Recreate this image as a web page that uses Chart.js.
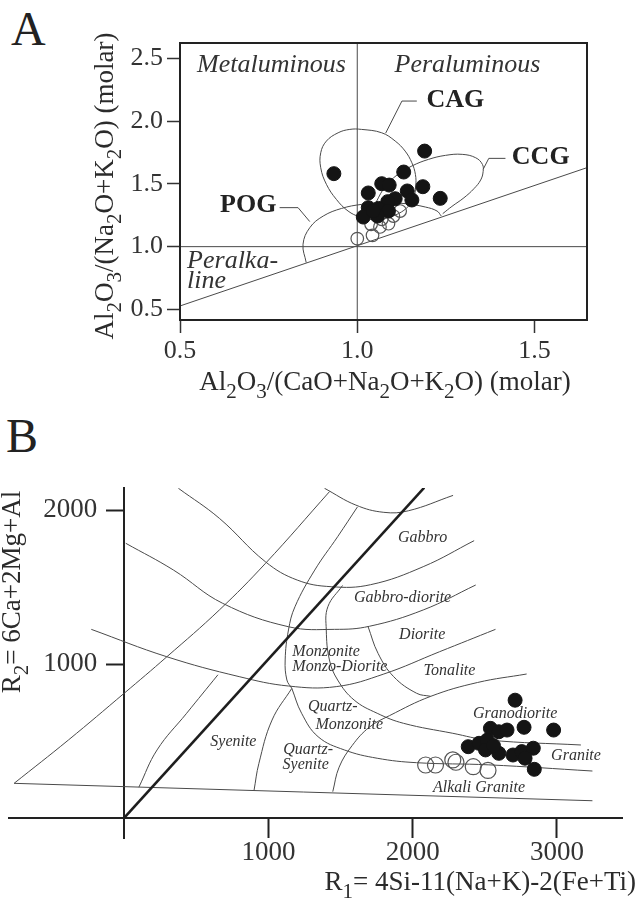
<!DOCTYPE html>
<html>
<head>
<meta charset="utf-8">
<script src="https://cdn.jsdelivr.net/npm/chart.js@4/dist/chart.umd.min.js"></script>
<style>
  body { margin: 0; background: #fff; width: 638px; height: 911px; position: relative; overflow: hidden; }
  .panel-label { position: absolute; font-family: 'Liberation Serif', serif; font-size: 48px; line-height: 1; color: #222; }
  #chartA { position: absolute; left: 0; top: 0; }
  #chartB { position: absolute; left: 0; top: 410px; }
</style>
</head>
<body>
<div class="panel-label" style="left:11px; top:5px">A</div>
<div class="panel-label" style="left:6px; top:412px">B</div>
<canvas id="chartA" width="638" height="410"></canvas>
<canvas id="chartB" width="638" height="501"></canvas>
<script>
// ---------- panel A : A/CNK vs A/NK ----------
var aTicksX = [0.5, 1.0, 1.5];
var aTicksY = [0.5, 1.0, 1.5, 2.0, 2.5];
var aFilledX = [0.934, 1.190, 1.131, 1.069, 1.090, 1.031, 1.185, 1.141, 1.154, 1.107, 1.086, 1.234, 1.031, 1.060, 1.088, 1.017, 1.057, 1.045];
var aFilledY = [1.582, 1.762, 1.595, 1.502, 1.491, 1.428, 1.478, 1.444, 1.372, 1.382, 1.359, 1.385, 1.311, 1.305, 1.284, 1.236, 1.244, 1.284];
var aOpenX = [1.000, 1.043, 1.039, 1.064, 1.088, 1.121, 1.102, 1.069];
var aOpenY = [1.064, 1.090, 1.178, 1.157, 1.183, 1.284, 1.244, 1.218];

// field outlines
var cagField = [[1.041, 1.215], [1.008, 1.236], [0.974, 1.284], [0.941, 1.377], [0.913, 1.497], [0.897, 1.629], [0.897, 1.749], [0.913, 1.842], [0.946, 1.908], [0.979, 1.935], [1.012, 1.935], [1.069, 1.908], [1.107, 1.842], [1.135, 1.762], [1.154, 1.669], [1.164, 1.576], [1.165, 1.483], [1.159, 1.390], [1.145, 1.324], [1.116, 1.263], [1.078, 1.226], [1.041, 1.215]];
var ccgField = [[1.045, 1.297], [1.055, 1.364], [1.078, 1.475], [1.112, 1.571], [1.154, 1.643], [1.201, 1.696], [1.249, 1.728], [1.296, 1.736], [1.334, 1.709], [1.353, 1.656], [1.355, 1.598], [1.348, 1.531], [1.329, 1.462], [1.301, 1.390], [1.267, 1.321], [1.241, 1.263]];
var pogField = [[0.856, 0.873], [0.847, 1.019], [0.866, 1.151], [0.904, 1.244], [0.956, 1.305], [1.012, 1.337], [1.069, 1.350], [1.135, 1.343], [1.192, 1.316], [1.225, 1.284], [1.237, 1.244]];
var cagLeader = [[1.080, 1.905], [1.126, 2.161], [1.168, 2.161]];
var ccgLeader = [[1.355, 1.616], [1.371, 1.704], [1.418, 1.704]];
var pogLeader = [[0.781, 1.311], [0.833, 1.311], [0.866, 1.200]];
var peralkLine = [[0.5, 0.527], [1.648, 1.630]];
var aRefV = [[1.0, 0.415], [1.0, 2.624]];
var aRefH = [[0.5, 1.0], [1.648, 1.0]];

// ---------- panel B : R1-R2 ----------
var bTicksX = [1000, 2000, 3000];
var bTicksY = [1000, 2000];
var bFilledX = [2710, 2539, 2597, 2654, 2772, 2977, 2385, 2460, 2517, 2505, 2597, 2695, 2756, 2836, 2779, 2843, 2560];
var bFilledY = [765, 582, 560, 571, 589, 571, 463, 485, 506, 442, 420, 409, 431, 453, 388, 316, 470];
var bOpenX = [2090, 2158, 2278, 2300, 2420, 2522];
var bOpenY = [344, 344, 377, 362, 333, 309];

var bndThick = [[0, 0], [2080, 2145]];
var bndBase = [[-763, 225], [3246, 112]];
var bndL1 = [[-763, 225], [-387, 506], [0, 810], [296, 1047], [660, 1351], [980, 1654], [1424, 2120]];
var bndL0 = [[102, 200], [228, 442], [433, 680], [650, 930]];
var bndL2 = [[1617, 2020], [1480, 1827], [1321, 1610], [1184, 1372], [1139, 1221], [1116, 1026], [1128, 896], [1162, 842]];
var bndS1 = [[1162, 842], [1025, 636], [934, 355], [900, 178]];
var bndC1 = [[1389, 2141], [1606, 2032], [1800, 1985], [1970, 1995], [2280, 2095]];
var bndC2 = [[376, 2141], [660, 1946], [979, 1664], [1200, 1545], [1435, 1502], [1708, 1515], [2073, 1632], [2426, 1801]];
var bndC3 = [[11, 1784], [342, 1610], [683, 1394], [1139, 1242], [1458, 1225], [1700, 1245], [2073, 1351], [2437, 1513]];
var bndC4 = [[-228, 1225], [296, 1047], [797, 918], [1139, 857], [1470, 853], [1800, 935], [2187, 1080], [2574, 1225]];
var bndC5 = [[1446, 171], [1490, 330], [1580, 470], [1700, 590], [1840, 665], [2125, 790], [2450, 880], [2790, 935]];
var bndC6 = [[1690, 1245], [1760, 1069], [1868, 918], [2027, 810], [2125, 790]];
var bndAlpha = [[1514, 1510], [1412, 1372], [1401, 1221], [1423, 1026], [1480, 896], [1594, 766], [1754, 680], [1936, 615], [2278, 550], [2528, 506], [3166, 474]];
var bndBeta = [[1162, 842], [1230, 680], [1344, 528], [1526, 442], [1754, 388], [2027, 359], [2528, 345], [3246, 305]];

var serif = "'Liberation Serif', 'Times New Roman', serif";

function xy(pairs) {
  return pairs.map(function (p) { return { x: p[0], y: p[1] }; });
}
function zip(xs, ys) {
  return xs.map(function (x, i) { return { x: x, y: ys[i] }; });
}
function curve(pairs, width, smooth, color) {
  return {
    data: xy(pairs), showLine: true, fill: false, pointRadius: 0,
    borderColor: color || '#4a4a4a', borderWidth: width || 1,
    tension: smooth ? 0.4 : 0, order: 2
  };
}
function dots(xs, ys, r, filled) {
  return {
    data: zip(xs, ys), showLine: false, pointRadius: r, pointHoverRadius: r,
    pointBackgroundColor: filled ? '#141414' : 'rgba(0,0,0,0)',
    pointBorderColor: filled ? '#141414' : '#555', pointBorderWidth: filled ? 1 : 1.2,
    order: filled ? 0 : 1
  };
}

// text with _2 style subscripts, y is the baseline
function drawRich(ctx, str, x, y, size, align, rotate) {
  var parts = str.split(/(_\d)/).filter(function (s) { return s.length; });
  var big = size + 'px ' + serif, small = Math.round(size * 0.78) + 'px ' + serif;
  var total = 0;
  parts.forEach(function (p) {
    var sub = p.charAt(0) === '_';
    ctx.font = sub ? small : big;
    total += ctx.measureText(sub ? p.slice(1) : p).width;
  });
  ctx.save();
  ctx.translate(x, y);
  if (rotate) ctx.rotate(rotate);
  ctx.fillStyle = '#2b2b2b';
  ctx.textAlign = 'left';
  ctx.textBaseline = 'alphabetic';
  var cx = align === 'right' ? -total : (align === 'left' ? 0 : -total / 2);
  parts.forEach(function (p) {
    var sub = p.charAt(0) === '_';
    var s = sub ? p.slice(1) : p;
    ctx.font = sub ? small : big;
    ctx.fillText(s, cx, sub ? size * 0.3 : 0);
    cx += ctx.measureText(s).width;
  });
  ctx.restore();
}

var notesPlugin = {
  id: 'notes',
  afterDatasetsDraw: function (chart, args, opts) {
    var ctx = chart.ctx, sx = chart.scales.x, sy = chart.scales.y;
    if (opts.box) {
      var a = chart.chartArea;
      ctx.save();
      ctx.strokeStyle = '#222';
      ctx.lineWidth = 2;
      ctx.strokeRect(a.left, a.top, a.right - a.left, a.bottom - a.top);
      ctx.restore();
    }
    (opts.labels || []).forEach(function (t) {
      ctx.save();
      ctx.font = t.font;
      ctx.fillStyle = t.color || '#333';
      ctx.textAlign = t.align || 'center';
      ctx.textBaseline = 'middle';
      ctx.fillText(t.text, sx.getPixelForValue(t.x), sy.getPixelForValue(t.y));
      ctx.restore();
    });
    // y tick labels for the axis that sits at x = 0
    if (opts.yTickLabels) {
      var yl = opts.yTickLabels;
      ctx.save();
      ctx.font = yl.size + 'px ' + serif;
      ctx.fillStyle = '#333';
      ctx.textAlign = 'right';
      ctx.textBaseline = 'middle';
      sy.ticks.forEach(function (t) {
        ctx.fillText(String(t.value), sx.getPixelForValue(0) - yl.gap, sy.getPixelForValue(t.value));
      });
      ctx.restore();
    }
    (opts.titles || []).forEach(function (t) {
      drawRich(ctx, t.text, t.px, t.py, t.size, t.align, t.rotate);
    });
  }
};

var itA = 'italic 26px ' + serif, bdA = 'bold 26px ' + serif, itB = 'italic 16px ' + serif;

new Chart(document.getElementById('chartA'), {
  type: 'scatter',
  data: {
    datasets: [
      dots(aFilledX, aFilledY, 7, true),
      dots(aOpenX, aOpenY, 6.3, false),
      curve(cagField, 1, true), curve(ccgField, 1, true), curve(pogField, 1, true),
      curve(cagLeader), curve(ccgLeader), curve(pogLeader),
      curve(peralkLine), curve(aRefV), curve(aRefH)
    ]
  },
  options: {
    responsive: false, animation: false, events: [],
    layout: { padding: { left: 0, top: 43, right: 51, bottom: 0 } },
    plugins: {
      legend: { display: false }, tooltip: { enabled: false },
      notes: {
        box: true,
        labels: [
          { text: 'Metaluminous', x: 0.758, y: 2.447, font: itA },
          { text: 'Peraluminous', x: 1.311, y: 2.447, font: itA },
          { text: 'Peralka-', x: 0.52, y: 0.885, font: itA, align: 'left' },
          { text: 'line', x: 0.52, y: 0.725, font: itA, align: 'left' },
          { text: 'CAG', x: 1.195, y: 2.168, font: bdA, align: 'left', color: '#222' },
          { text: 'CCG', x: 1.436, y: 1.714, font: bdA, align: 'left', color: '#222' },
          { text: 'POG', x: 0.613, y: 1.331, font: bdA, align: 'left', color: '#222' }
        ],
        titles: [
          { text: 'Al_2O_3/(CaO+Na_2O+K_2O) (molar)', px: 385, py: 390, size: 27, align: 'center' },
          { text: 'Al_2O_3/(Na_2O+K_2O) (molar)', px: 113, py: 186, size: 27, align: 'center', rotate: -Math.PI / 2 }
        ]
      }
    },
    scales: {
      x: {
        type: 'linear', min: 0.5, max: 1.648,
        afterFit: function (s) { s.height = 90; },
        afterBuildTicks: function (s) { s.ticks = aTicksX.map(function (v) { return { value: v }; }); },
        grid: { drawOnChartArea: false, drawTicks: true, tickLength: 13, tickColor: '#333', tickWidth: 1.5 },
        border: { display: false },
        ticks: { padding: 3, color: '#333', font: { family: serif, size: 26 }, maxRotation: 0,
          callback: function (v) { return Number(v).toFixed(1); } }
      },
      y: {
        type: 'linear', min: 0.415, max: 2.624,
        afterFit: function (s) { s.width = 180; },
        afterBuildTicks: function (s) { s.ticks = aTicksY.map(function (v) { return { value: v }; }); },
        grid: { drawOnChartArea: false, drawTicks: true, tickLength: 13, tickColor: '#333', tickWidth: 1.5 },
        border: { display: false },
        ticks: { padding: 4, color: '#333', font: { family: serif, size: 26 },
          callback: function (v) { return Number(v).toFixed(1); } }
      }
    }
  },
  plugins: [notesPlugin]
});

new Chart(document.getElementById('chartB'), {
  type: 'scatter',
  data: {
    datasets: [
      dots(bFilledX, bFilledY, 7, true),
      dots(bOpenX, bOpenY, 8, false),
      curve(bndThick, 2.6, false, '#1e1e1e'),
      curve(bndBase), curve(bndL1, 1, true), curve(bndL0, 1, true), curve(bndL2, 1, true),
      curve(bndS1, 1, true), curve(bndC1, 1, true), curve(bndC2, 1, true), curve(bndC3, 1, true),
      curve(bndC4, 1, true), curve(bndC5, 1, true), curve(bndC6, 1, true),
      curve(bndAlpha, 1, true), curve(bndBeta, 1, true)
    ]
  },
  options: {
    responsive: false, animation: false, events: [],
    layout: { padding: { left: 0, top: 78, right: 16, bottom: 73 } },
    plugins: {
      legend: { display: false }, tooltip: { enabled: false },
      notes: {
        labels: [
          { text: 'Gabbro', x: 2069, y: 1820, font: itB },
          { text: 'Gabbro-diorite', x: 1930, y: 1433, font: itB },
          { text: 'Diorite', x: 2066, y: 1190, font: itB },
          { text: 'Tonalite', x: 2255, y: 955, font: itB },
          { text: 'Monzonite', x: 1166, y: 1080, font: itB, align: 'left' },
          { text: 'Monzo-Diorite', x: 1166, y: 982, font: itB, align: 'left' },
          { text: 'Quartz-', x: 1446, y: 723, font: itB },
          { text: 'Monzonite', x: 1560, y: 608, font: itB },
          { text: 'Syenite', x: 757, y: 495, font: itB },
          { text: 'Quartz-', x: 1275, y: 446, font: itB },
          { text: 'Syenite', x: 1258, y: 344, font: itB },
          { text: 'Granodiorite', x: 2710, y: 677, font: itB },
          { text: 'Granite', x: 3132, y: 403, font: itB },
          { text: 'Alkali Granite', x: 2460, y: 199, font: itB }
        ],
        yTickLabels: { size: 27, gap: 27 },
        titles: [
          { text: 'R_1= 4Si-11(Na+K)-2(Fe+Ti)', px: 636, py: 480, size: 27, align: 'right' },
          { text: 'R_2= 6Ca+2Mg+Al', px: 20, py: 182, size: 27, align: 'center', rotate: -Math.PI / 2 }
        ]
      }
    },
    scales: {
      x: {
        type: 'linear', min: -797, max: 3451, position: { y: 0 },
        afterBuildTicks: function (s) { s.ticks = bTicksX.map(function (v) { return { value: v }; }); },
        grid: { drawOnChartArea: false, drawTicks: true, tickLength: 19, tickColor: '#222', tickWidth: 2 },
        border: { display: true, color: '#222', width: 2 },
        ticks: { padding: 0, color: '#333', font: { family: serif, size: 27 }, maxRotation: 0,
          callback: function (v) { return String(v); } }
      },
      y: {
        type: 'linear', min: -130, max: 2143, position: { x: 0 },
        afterBuildTicks: function (s) { s.ticks = bTicksY.map(function (v) { return { value: v }; }); },
        grid: { drawOnChartArea: false, drawTicks: true, tickLength: 17, tickColor: '#222', tickWidth: 2 },
        border: { display: true, color: '#222', width: 2 },
        ticks: { display: false }
      }
    }
  },
  plugins: [notesPlugin]
});
</script>
</body>
</html>
